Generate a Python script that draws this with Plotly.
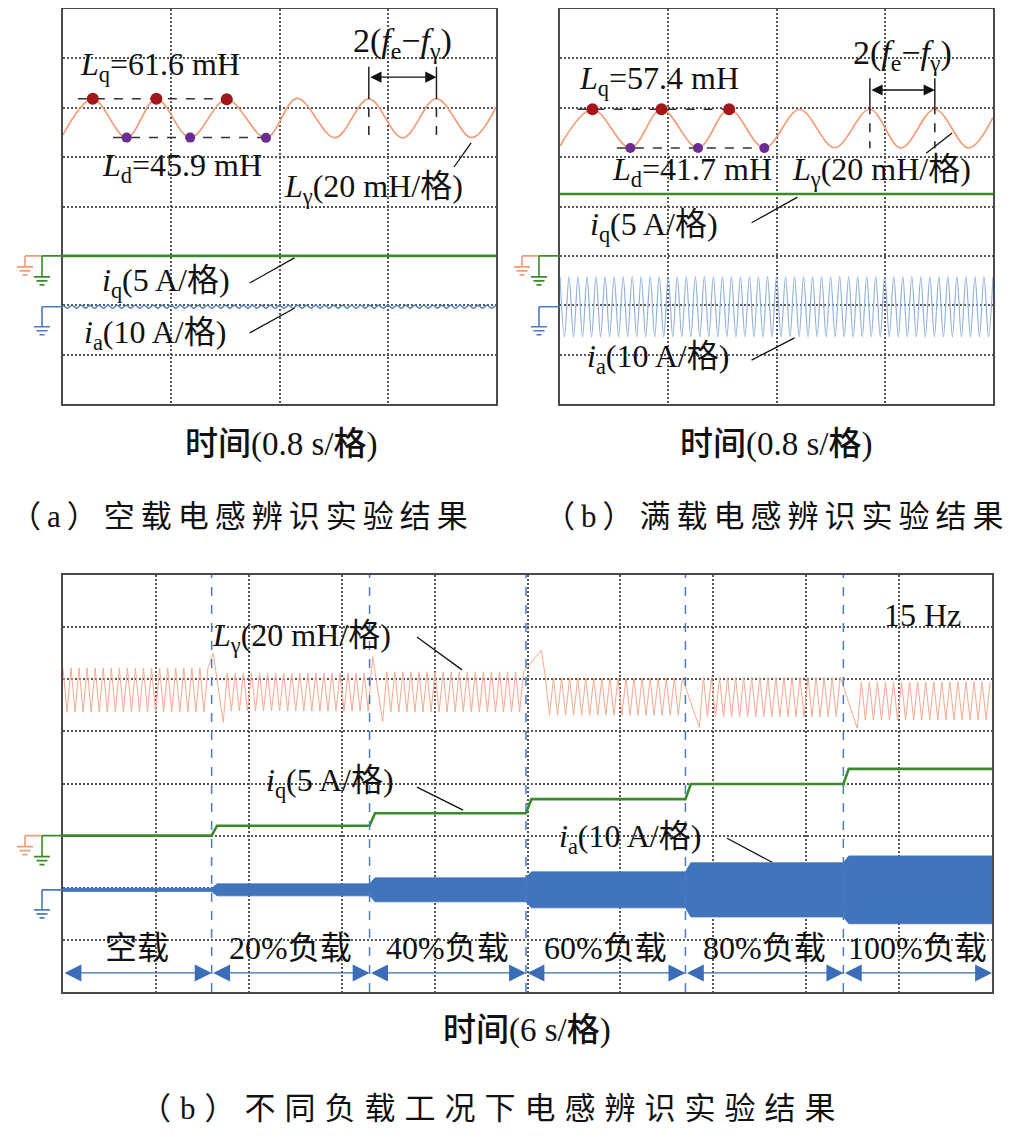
import numpy as np
import plotly.graph_objects as go

# ---- values ----
# channel scales (per division) and scope offsets (divisions)
L_SCALE, IQ_SCALE, IA_SCALE = 20.0, 5.0, 10.0   # mH/div, A/div, A/div
L_OFF = 3.1
IQ_GND = 3.0
IA_GND_AB = 1.97
IA_GND_C = 1.96
IA_FREQ = 15.0  # Hz

# (a) no load, 0.8 s/div: extrema of L_gamma (s, mH)
a_L_t = [0.00, 0.22, 0.47, 0.69, 0.94, 1.21, 1.50, 1.73, 2.01, 2.26, 2.51, 2.76, 3.02, 3.20]
a_L = [47.0, 61.6, 45.9, 61.6, 45.9, 61.4, 45.8, 61.8, 45.9, 61.6, 45.8, 61.7, 45.9, 58.3]
a_Lq, a_Ld = 61.6, 45.9
a_iq = 0.0
a_ia_amp = 0.3

# (b) full load
b_L_t = [0.00, 0.24, 0.52, 0.75, 1.02, 1.25, 1.51, 1.77, 2.03, 2.29, 2.52, 2.77, 3.02, 3.20]
b_L = [42.5, 57.4, 41.7, 57.4, 41.7, 57.4, 41.7, 57.3, 41.8, 57.4, 41.7, 57.4, 41.7, 54.1]
b_Lq, b_Ld = 57.4, 41.7
b_iq = 6.27
b_ia_amp = 6.1

# (c) load steps, 6 s/div
c_step_t = [9.6, 19.8, 29.9, 40.2, 50.4]
c_load = ["空载", "20%负载", "40%负载", "60%负载", "80%负载", "100%负载"]
c_iq = [0.0, 0.95, 2.15, 3.5, 4.95, 6.4]
c_ia_amp = [0.3, 1.15, 2.3, 3.45, 5.2, 6.5]
c_L_hi = [62.3, 60.4, 60.8, 58.5, 58.8, 57.0]
c_L_lo = [45.4, 45.8, 45.4, 44.2, 43.6, 42.4]
c_L_period = 0.52
# excursions of L_gamma just after each step (s, mH)
c_kick_t = [[], [9.7, 10.35], [20.0, 20.65], [30.9], [41.1], [51.3]]
c_kick_v = [[], [68.0, 41.5], [66.7, 41.6], [69.2], [39.6], [39.2]]

SERIF = "Liberation Serif, Noto Sans CJK SC"
ORANGE = "#f39c78"
GREEN = "#3b8a2a"
BLUE = "#4a7bc4"

# the page body has an 8 px margin, so the figure is placed 8 px in
OFF = 8
W, H = 1024 - OFF, 1140 - OFF


def px(X):
    return (X - OFF) / W


def py(Y):
    return 1 - (Y - OFF) / H


dom = {
    "a": ([px(63), px(496)], [py(404), py(9)]),
    "b": ([px(560), px(993)], [py(404), py(9)]),
    "c": ([px(63), px(992)], [py(992), py(575)]),
}

fig = go.Figure()


def line(x, y, xa, ya, color, width, shape="linear", dash=None):
    fig.add_trace(go.Scatter(x=x, y=y, mode="lines", xaxis=xa, yaxis=ya,
                             line=dict(color=color, width=width, shape=shape, dash=dash),
                             hoverinfo="skip", showlegend=False))


def text(s, x, y, xref, yref, size=32, xanchor="left", weight=None):
    f = dict(size=size, color="#111", family=SERIF)
    if weight:
        f["weight"] = weight
    fig.add_annotation(text=s, x=x, y=y, xref=xref, yref=yref, xanchor=xanchor,
                       yanchor="middle", showarrow=False, font=f)


def leader(x0, y0, x1, y1, xref, yref):
    fig.add_shape(type="line", x0=x0, y0=y0, x1=x1, y1=y1, xref=xref, yref=yref,
                  line=dict(color="#111", width=1.3))


def ground(color, sx, ex, stem, level, yref, left):
    bars = [(stem, 16), (stem + 4, 11), (stem + 8, 5)]
    p = f"M{sx},0 L{ex},0 M{sx},0 L{sx},{-stem} "
    for d, w in bars:
        p += f"M{sx - w / 2},{-d} L{sx + w / 2},{-d} "
    fig.add_shape(type="path", path=p, xref="paper", xsizemode="pixel", xanchor=left,
                  yref=yref, ysizemode="pixel", yanchor=level,
                  line=dict(color=color, width=1.6))


def ripple(t_end, amp):
    ts = np.arange(0, t_end + 1e-9, 0.5 / IA_FREQ)
    vs = np.where(np.arange(len(ts)) % 2 == 0, amp, -amp)
    return ts, vs


# ---- panels (a) and (b) ----
panels = [
    ("a", "x", "y", a_L_t, a_L, a_Lq, a_Ld, a_iq, a_ia_amp),
    ("b", "x2", "y2", b_L_t, b_L, b_Lq, b_Ld, b_iq, b_ia_amp),
]
for key, xa, ya, Lt, Lv, Lq, Ld, iq, ia_amp in panels:
    Ly = L_OFF + np.array(Lv) / L_SCALE
    line(Lt, Ly, xa, ya, ORANGE, 1.7, shape="spline")
    line([0, 3.2], [IQ_GND + iq / IQ_SCALE] * 2, xa, ya, GREEN, 2.6)
    ts, vs = ripple(3.2, ia_amp)
    if key == "a":
        line(ts, IA_GND_AB + vs / IA_SCALE, xa, ya, BLUE, 1.5, shape="spline")
    else:
        line(ts, IA_GND_AB + vs / IA_SCALE, xa, ya, "#93b3dd", 1.2, shape="spline")

    pk = [1, 3, 5]
    tr = [2, 4, 6]
    dash_q = (Lt[pk[0]] - 0.11, Lt[pk[-1]] + 0.03)
    dash_d = (Lt[tr[0]] - 0.1, Lt[tr[-1]] + 0.0)
    line(list(dash_q), [L_OFF + Lq / L_SCALE] * 2, xa, ya, "#333", 1.5, dash="dash")
    line(list(dash_d), [L_OFF + Ld / L_SCALE] * 2, xa, ya, "#333", 1.5, dash="dash")
    fig.add_trace(go.Scatter(x=[Lt[i] for i in pk], y=[Ly[i] for i in pk], mode="markers",
                             marker=dict(color="#a3161a", size=12), xaxis=xa, yaxis=ya,
                             hoverinfo="skip", showlegend=False))
    fig.add_trace(go.Scatter(x=[Lt[i] for i in tr], y=[Ly[i] for i in tr], mode="markers",
                             marker=dict(color="#6b2c91", size=10), xaxis=xa, yaxis=ya,
                             hoverinfo="skip", showlegend=False))

    # 2(fe - fgamma) marker between peaks 5 and 6
    p5, p6 = Lt[9], Lt[11]
    if key == "a":
        y_top, y_mid, y_bot, y_arr, y_txt = 6.83, 6.36, 5.39, 6.62, 7.31
    else:
        y_top, y_mid, y_bot, y_arr, y_txt = 6.60, 6.05, 5.18, 6.36, 7.07
    for p in (p5, p6):
        line([p, p], [y_top, y_mid], xa, ya, "#222", 1.5)
        line([p, p], [y_mid, y_bot], xa, ya, "#222", 1.5, dash="dash")
    fig.add_annotation(x=p6, y=y_arr, ax=p5, ay=y_arr, xref=xa, yref=ya, axref=xa, ayref=ya,
                       text="", showarrow=True, arrowside="end+start", arrowhead=2,
                       startarrowhead=2, arrowsize=1.6, startarrowsize=1.6,
                       arrowwidth=1.4, arrowcolor="#111")
    text("2(<i>f</i><sub>e</sub>−<i>f</i><sub>γ</sub>)", (p5 + p6) / 2, y_txt, xa, ya,
         size=34, xanchor="center")

    left = dom[key][0][0]
    ground(ORANGE, -38, -21, 11, IQ_GND, ya, left)
    ground(GREEN, -21, 0, 21, IQ_GND, ya, left)
    ground(BLUE, -21, 0, 20, IA_GND_AB, ya, left)

# labels for (a)
text("<i>L</i><sub>q</sub>=61.6 mH", 0.111, 6.83, "x", "y")
text("<i>L</i><sub>d</sub>=45.9 mH", 0.273, 4.80, "x", "y")
text("<i>L</i><sub>γ</sub>(20 mH/格)", 1.62, 4.37, "x", "y")
text("<i>i</i><sub>q</sub>(5 A/格)", 0.273, 2.47, "x", "y")
text("<i>i</i><sub>a</sub>(10 A/格)", 0.14, 1.40, "x", "y")
leader(3.016, 5.29, 2.89, 4.80, "x", "y")
leader(1.38, 2.45, 1.71, 2.96, "x", "y")
leader(1.38, 1.44, 1.71, 1.94, "x", "y")

# labels for (b)
text("<i>L</i><sub>q</sub>=57.4 mH", 0.125, 6.56, "x2", "y2")
text("<i>L</i><sub>d</sub>=41.7 mH", 0.369, 4.70, "x2", "y2")
text("<i>L</i><sub>γ</sub>(20 mH/格)", 1.70, 4.70, "x2", "y2")
text("<i>i</i><sub>q</sub>(5 A/格)", 0.206, 3.585, "x2", "y2")
text("<i>i</i><sub>a</sub>(10 A/格)", 0.184, 0.93, "x2", "y2")
leader(2.898, 5.49, 2.706, 5.08, "x2", "y2")
leader(1.416, 3.67, 1.755, 4.19, "x2", "y2")
leader(1.416, 0.89, 1.733, 1.34, "x2", "y2")

# ---- panel (c) ----
bounds = [0.0] + c_step_t + [60.0]
ramp = 0.35

# L_gamma
Lx, Ly = [], []
for k in range(6):
    t0, t1 = bounds[k], bounds[k + 1]
    start = t0
    if c_kick_t[k]:
        Lx += c_kick_t[k]
        Ly += c_kick_v[k]
        start = c_kick_t[k][-1] + c_L_period / 2
    ts = np.arange(start, t1, c_L_period / 2)
    vs = np.where(np.arange(len(ts)) % 2 == 0, c_L_hi[k], c_L_lo[k])
    Lx += list(ts)
    Ly += list(vs)
line(Lx, L_OFF + np.array(Ly) / L_SCALE, "x3", "y3", "#f6ab8f", 1.0)

# i_q steps
qx, qy = [], []
for k in range(6):
    t0, t1 = bounds[k], bounds[k + 1]
    qx += [t0 + (ramp if k else 0), t1]
    qy += [c_iq[k], c_iq[k]]
line(qx, IQ_GND + np.array(qy) / IQ_SCALE, "x3", "y3", GREEN, 2.6)

# i_a envelope band
ux, uy = [], []
for k in range(6):
    t0, t1 = bounds[k], bounds[k + 1]
    ux += [t0 + (ramp if k else 0), t1]
    uy += [c_ia_amp[k], c_ia_amp[k]]
ux = np.array(ux)
uy = np.array(uy) / IA_SCALE
fig.add_trace(go.Scatter(x=np.concatenate([ux, ux[::-1]]),
                         y=np.concatenate([IA_GND_C + uy, (IA_GND_C - uy)[::-1]]),
                         mode="lines", fill="toself", fillcolor="#4274bc",
                         line=dict(color="#4274bc", width=0.8), xaxis="x3", yaxis="y3",
                         hoverinfo="skip", showlegend=False))

# step markers, arrows and load labels
for t in c_step_t:
    fig.add_shape(type="line", x0=t, x1=t, y0=0, y1=1, xref="x3", yref="y3 domain",
                  line=dict(color="#4b7dc6", width=1.5, dash="dash"))
for k in range(6):
    t0, t1 = bounds[k], bounds[k + 1]
    fig.add_annotation(x=t1, y=0.365, ax=t0, ay=0.365, xref="x3", yref="y3", axref="x3",
                       ayref="y3", text="", showarrow=True, arrowside="end+start",
                       arrowhead=2, startarrowhead=2, arrowsize=2.6, startarrowsize=2.6,
                       arrowwidth=1.3, arrowcolor="#3a6cb8")
    text(c_load[k], (t0 + t1) / 2, 0.84, "x3", "y3", xanchor="center")

text("<i>L</i><sub>γ</sub>(20 mH/格)", 9.5, 6.81, "x3", "y3")
text("<i>i</i><sub>q</sub>(5 A/格)", 13.0, 4.01, "x3", "y3")
text("<i>i</i><sub>a</sub>(10 A/格)", 31.9, 2.95, "x3", "y3")
text("15 Hz", 52.9, 7.23, "x3", "y3")
leader(22.86, 6.81, 25.77, 6.18, "x3", "y3")
leader(22.86, 3.93, 25.84, 3.49, "x3", "y3")
leader(42.89, 2.95, 45.79, 2.49, "x3", "y3")

left_c = dom["c"][0][0]
ground(ORANGE, -38, -21, 11, IQ_GND, "y3", left_c)
ground(GREEN, -21, 0, 21, IQ_GND, "y3", left_c)
ground(BLUE, -21, 0, 20, IA_GND_C, "y3", left_c)

# ---- axis titles and captions ----
text("时间(0.8 s/格)", px(281), py(444), "paper", "paper", size=33, xanchor="center",
     weight=500)
text("时间(0.8 s/格)", px(776), py(444), "paper", "paper", size=33, xanchor="center",
     weight=500)
text("时间(6 s/格)", px(527), py(1030), "paper", "paper", size=33, xanchor="center",
     weight=500)
cap = '<span style="letter-spacing:{}px">{}</span>'
text(cap.format(6, "（a）空载电感辨识实验结果"), px(242), py(516), "paper", "paper",
     size=31, xanchor="center")
text(cap.format(6, "（b）满载电感辨识实验结果"), px(777), py(516), "paper", "paper",
     size=31, xanchor="center")
text(cap.format(9, "（b）不同负载工况下电感辨识实验结果"), px(492), py(1108), "paper",
     "paper", size=31, xanchor="center")

# ---- axes ----
grid = dict(showgrid=True, gridcolor="#555", gridwidth=1.5, griddash="1.5px,2.5px",
            zeroline=False, showticklabels=False, ticks="", showline=True, mirror=True,
            linecolor="#4a4a4a", linewidth=2, fixedrange=True)
layout_axes = {}
for i, (key, xr, dt) in enumerate([("a", 3.2, 0.8), ("b", 3.2, 0.8), ("c", 60, 6)]):
    sfx = "" if i == 0 else str(i + 1)
    layout_axes["xaxis" + sfx] = dict(grid, domain=dom[key][0], range=[0, xr], tick0=0,
                                      dtick=dt, anchor="y" + sfx)
    layout_axes["yaxis" + sfx] = dict(grid, domain=dom[key][1], range=[0, 8], tick0=0,
                                      dtick=1, anchor="x" + sfx)

fig.update_layout(width=W, height=H, margin=dict(l=0, r=0, t=0, b=0),
                  paper_bgcolor="white", plot_bgcolor="white", showlegend=False,
                  font=dict(family=SERIF, color="#111"), **layout_axes)

fig.write_html("out.html")
